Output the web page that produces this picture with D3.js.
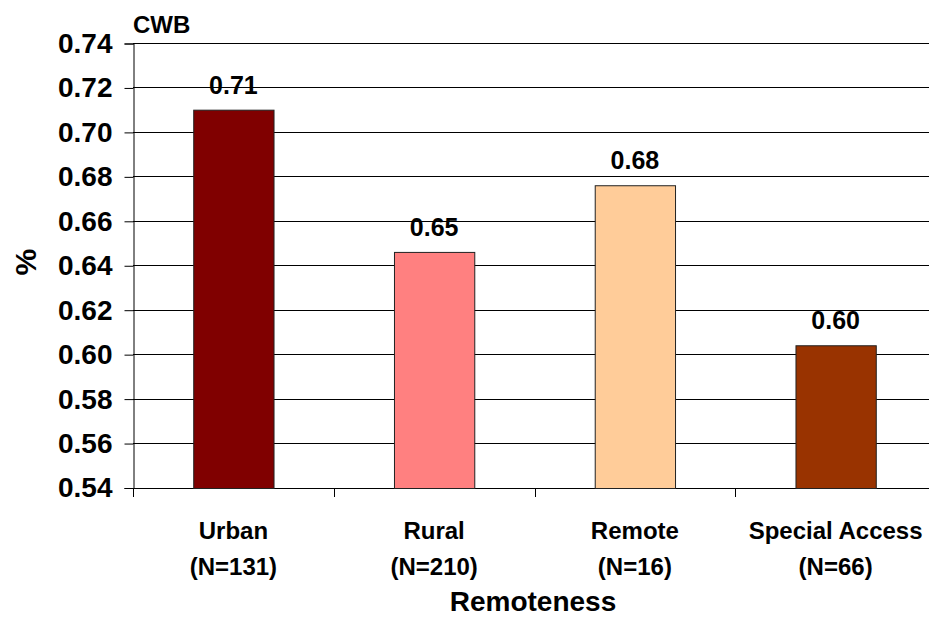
<!DOCTYPE html>
<html><head><meta charset="utf-8">
<script src="https://cdn.jsdelivr.net/npm/d3@7"></script>
<style>html,body{margin:0;padding:0;background:#fff;overflow:hidden}text{font-family:"Liberation Sans",Arial,sans-serif;font-weight:bold;fill:#000}</style>
</head><body><svg id="c" width="929" height="624"></svg>
<script>
const categories = ["Urban", "Rural", "Remote", "Special Access"];
const counts = ["(N=131)", "(N=210)", "(N=16)", "(N=66)"];
const values = [0.710, 0.646, 0.676, 0.604];
const valueLabels = ["0.71", "0.65", "0.68", "0.60"];
const colors = ["#800000", "#FF8080", "#FFCC99", "#993300"];
const yTicks = [0.54, 0.56, 0.58, 0.60, 0.62, 0.64, 0.66, 0.68, 0.70, 0.72, 0.74];

(function () {
const svg = d3.select("#c");
const pL = 133, pR = 936, pT = 43, pB = 487.5;
const x = d3.scaleBand().domain(categories).range([pL, pR]).paddingInner(0.6).paddingOuter(0.3);
const y = d3.scaleLinear().domain([0.54, 0.74]).range([pB, pT]);

// gridlines
svg.append("g").selectAll("line").data(yTicks).join("line")
  .attr("x1", pL).attr("x2", pR)
  .attr("y1", d => Math.round(y(d)) + 0.5).attr("y2", d => Math.round(y(d)) + 0.5)
  .attr("stroke", "#000").attr("stroke-width", 1);

// y axis
const yAxis = d3.axisLeft(y).tickValues(yTicks).tickFormat(d3.format(".2f")).tickSize(9).tickPadding(12);
const gy = svg.append("g").attr("transform", `translate(${pL + 0.5},0.5)`).call(yAxis);
gy.select(".domain").attr("stroke", "#000");
gy.selectAll(".tick line").attr("stroke", "#000");
gy.selectAll(".tick text").style("font-size", "28px").style("font-family", "'Liberation Sans', Arial, sans-serif").style("font-weight", "bold").attr("fill", "#000");

// x axis ticks at band boundaries
const bounds = categories.map(c => x(c) - x.step() * x.paddingInner() / 2);
bounds.push(pR);
svg.append("line").attr("x1", pL).attr("x2", pR).attr("y1", Math.round(pB) + 0.5).attr("y2", Math.round(pB) + 0.5).attr("stroke", "#000");
svg.append("g").selectAll("line").data(bounds).join("line")
  .attr("x1", d => Math.round(d) + 0.5).attr("x2", d => Math.round(d) + 0.5)
  .attr("y1", Math.round(pB)).attr("y2", Math.round(pB) + 9)
  .attr("stroke", "#000");

// bars
svg.append("g").selectAll("rect").data(categories).join("rect")
  .attr("x", d => x(d) + 0.5)
  .attr("y", (d, i) => y(values[i]) + 0.5)
  .attr("width", x.bandwidth())
  .attr("height", (d, i) => Math.round(pB) - y(values[i]))
  .attr("fill", (d, i) => colors[i])
  .attr("stroke", "#222").attr("stroke-width", 1);

// value labels
svg.append("g").selectAll("text").data(categories).join("text")
  .attr("x", d => x(d) + x.bandwidth() / 2)
  .attr("y", (d, i) => y(values[i]) - 16)
  .attr("text-anchor", "middle").style("font-size", "25px")
  .text((d, i) => valueLabels[i]);

// category labels
const cl = svg.append("g").selectAll("text").data(categories).join("text")
  .attr("text-anchor", "middle").style("font-size", "24px");
cl.append("tspan").attr("x", d => x(d) + x.bandwidth() / 2).attr("y", 539).text(d => d);
cl.append("tspan").attr("x", d => x(d) + x.bandwidth() / 2).attr("y", 575).text((d, i) => counts[i]);

// axis titles
svg.append("text").attr("x", 533).attr("y", 611).attr("text-anchor", "middle")
  .style("font-size", "28px").text("Remoteness");
svg.append("text").attr("transform", `translate(36,${(pT + pB) / 2 - 3}) rotate(-90)`).attr("text-anchor", "middle")
  .style("font-size", "30px").text("%");
svg.append("text").attr("x", 133).attr("y", 33).style("font-size", "24px").text("CWB");
})();
</script></body></html>
